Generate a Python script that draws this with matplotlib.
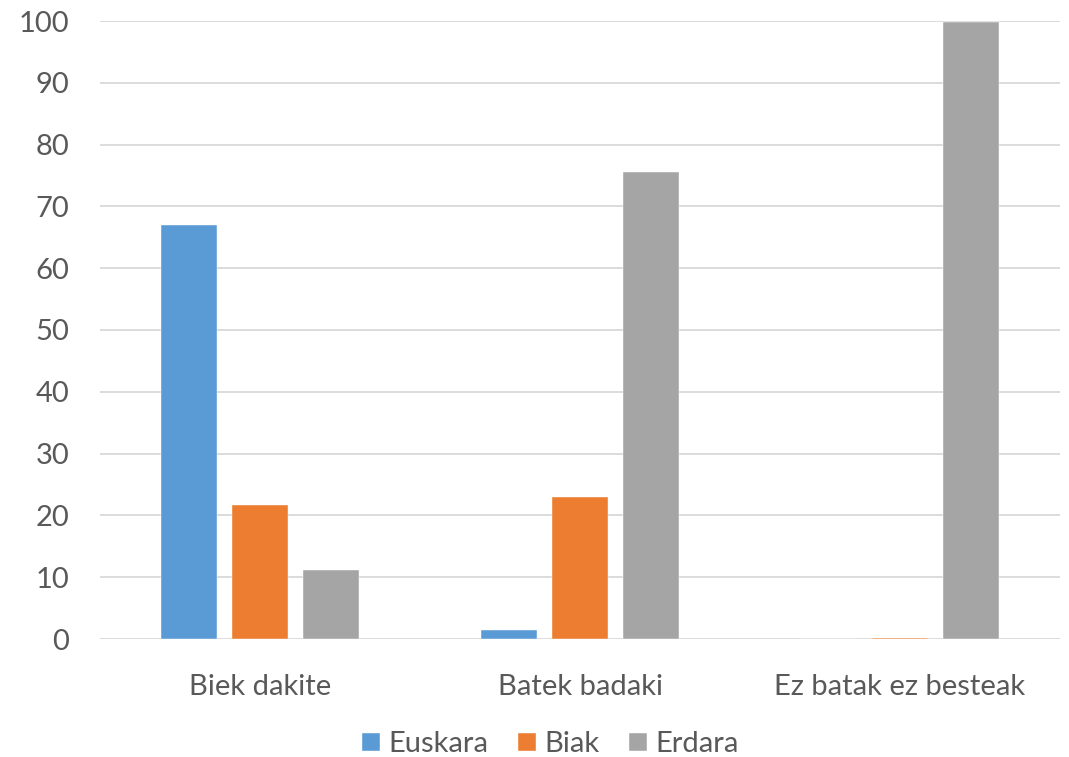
import matplotlib
matplotlib.use("Agg")
import matplotlib.pyplot as plt
import numpy as np

categories = ["Biek dakite", "Batek badaki", "Ez batak ez besteak"]
series_names = ["Euskara", "Biak", "Erdara"]
euskara = [67.0, 1.5, 0.0]
biak = [21.7, 22.9, 0.2]
erdara = [11.1, 75.5, 99.8]
colors = ["#5B9BD5", "#ED7D31", "#A5A5A5"]
yticks = list(range(0, 101, 10))

plt.rcParams['font.family'] = ['Lato', 'DejaVu Sans']
text_color = "#595959"

fig = plt.figure(figsize=(10.69, 7.57), dpi=100)
ax = fig.add_axes([100/1069, (757-639)/757, 960/1069, 618/757])

x = np.arange(len(categories))
width = 0.175
step = 0.222
for i, (vals, name, c) in enumerate(zip([euskara, biak, erdara], series_names, colors)):
    ax.bar(x + (i - 1) * step, vals, width, color=c, label=name, zorder=3,
           edgecolor="white", linewidth=0.3)

ax.set_xlim(-0.5, 2.5)
ax.set_ylim(0, 100)
ax.set_yticks(yticks)
ax.set_xticks(x)
ax.set_xticklabels(categories)
ax.yaxis.grid(True, color="#D9D9D9", linewidth=1.3, zorder=0)
ax.set_axisbelow(True)
for s in ax.spines.values():
    s.set_visible(False)
ax.tick_params(axis='both', length=0, labelsize=21, colors=text_color)
ax.tick_params(axis='y', pad=22)
ax.tick_params(axis='x', pad=25)

leg = fig.legend(loc="lower center", bbox_to_anchor=(0.515, -0.035), ncol=3, frameon=False,
                 fontsize=21, handlelength=0.62, handleheight=0.62, handletextpad=0.3,
                 columnspacing=1.0)
for t in leg.get_texts():
    t.set_color(text_color)

fig.savefig("out.png", dpi=100)
